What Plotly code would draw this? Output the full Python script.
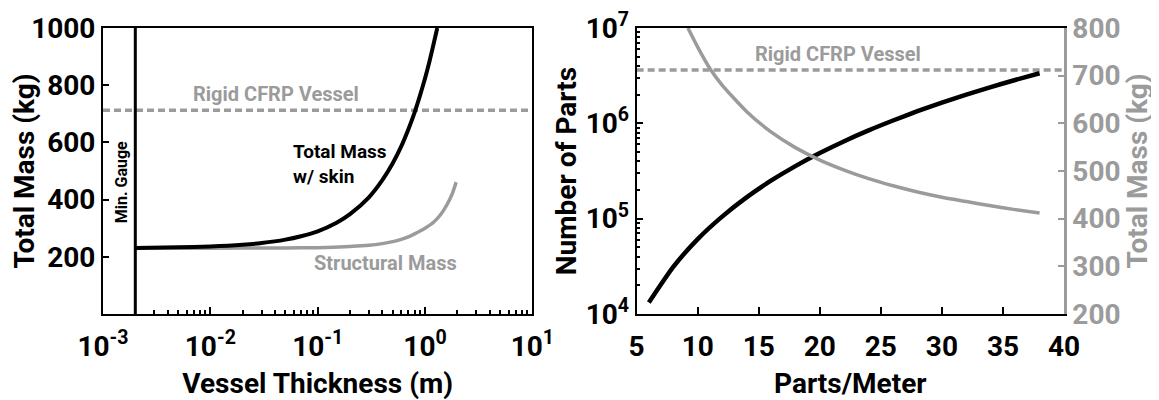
import math
import plotly.graph_objects as go
from plotly.subplots import make_subplots

# ---------------- data ----------------
# Left panel: mass vs vessel thickness (m)
thickness_total = [0.002, 0.005, 0.01, 0.02, 0.03, 0.05, 0.07, 0.1, 0.15, 0.2, 0.3, 0.4, 0.5, 0.6, 0.7, 0.8, 0.9, 1.0, 1.1, 1.2, 1.3]
mass_total = [231, 233, 236, 242, 248, 260, 272, 289, 319, 349, 408, 468, 527, 586, 646, 705, 765, 824, 883, 943, 1000]

thickness_struct = [0.002, 0.01, 0.05, 0.1, 0.2, 0.3, 0.4, 0.5, 0.6, 0.7, 0.8, 0.9, 1.0, 1.2, 1.4, 1.6, 1.8, 1.95]
mass_struct = [230, 230, 231, 232, 236, 240, 246, 253, 261, 270, 280, 290, 300, 321, 348, 382, 422, 461]

min_gauge = 0.002
rigid_cfrp_mass = 712

# Right panel: parts count and total mass vs parts/meter
ppm_parts = [6, 8, 10, 12, 14, 16, 18, 20, 22, 24, 26, 28, 30, 32, 34, 36, 38]
num_parts = [13200, 31200, 61000, 105000, 167000, 250000, 356000, 488000, 650000, 843000,
             1070000, 1340000, 1650000, 2000000, 2400000, 2850000, 3350000]

ppm_mass = [9.2, 10, 11, 12, 14, 16, 18, 20, 22, 24, 26, 28, 30, 32, 34, 36, 38]
mass_ppm = [800, 760, 715, 680, 625, 582, 549, 523, 502, 484, 469, 456, 445, 436, 427, 419, 412]

left_x_exps = [-3, -2, -1, 0, 1]
left_y_range = [0, 1000]
left_y_ticks = [200, 400, 600, 800, 1000]
right_x_ticks = [5, 10, 15, 20, 25, 30, 35, 40]
right_y_exps = [4, 5, 6, 7]
right_y2_ticks = [200, 300, 400, 500, 600, 700, 800]

# ---------------- style ----------------
FONT = "Roboto, 'Open Sans', sans-serif"
BLACK = "#000000"
GRAY = "#9b9b9b"
TICKF = dict(family=FONT, size=28, color=BLACK, weight="bold")
TITLEF = dict(family=FONT, size=28, color=BLACK, weight="bold")

fig = make_subplots(rows=1, cols=2, specs=[[{}, {"secondary_y": True}]])

# left panel traces
fig.add_trace(go.Scatter(x=thickness_struct, y=mass_struct, mode="lines",
                         line=dict(color=GRAY, width=3.5, shape="spline", smoothing=0.6),
                         name="Structural Mass", showlegend=False), row=1, col=1)
fig.add_trace(go.Scatter(x=thickness_total, y=mass_total, mode="lines",
                         line=dict(color=BLACK, width=4, shape="spline", smoothing=0.6),
                         name="Total Mass w/ skin", showlegend=False), row=1, col=1)
fig.add_trace(go.Scatter(x=[min_gauge, min_gauge], y=left_y_range, mode="lines",
                         line=dict(color=BLACK, width=3), name="Min. Gauge",
                         showlegend=False, cliponaxis=False), row=1, col=1)

# right panel traces
fig.add_trace(go.Scatter(x=ppm_mass, y=mass_ppm, mode="lines",
                         line=dict(color=GRAY, width=3.5, shape="spline", smoothing=0.6),
                         name="Total Mass", showlegend=False), row=1, col=2, secondary_y=True)
fig.add_trace(go.Scatter(x=ppm_parts, y=num_parts, mode="lines",
                         line=dict(color=BLACK, width=4.5, shape="spline", smoothing=0.6),
                         name="Number of Parts", showlegend=False), row=1, col=2, secondary_y=False)

# rigid CFRP reference lines
fig.add_shape(type="line", xref="x domain", yref="y", x0=0, x1=1,
              y0=rigid_cfrp_mass, y1=rigid_cfrp_mass,
              line=dict(color=GRAY, width=3.5, dash="7px,4px"), layer="below")
fig.add_shape(type="line", xref="x2 domain", yref="y3", x0=0, x1=1,
              y0=rigid_cfrp_mass, y1=rigid_cfrp_mass,
              line=dict(color=GRAY, width=3.5, dash="7px,4px"), layer="below")

# ---------------- axes ----------------
left_minor = [k * 10.0 ** e for e in range(-3, 1) for k in range(2, 10)]
right_minor = [k * 10.0 ** e for e in range(4, 7) for k in range(2, 10)]

fig.update_xaxes(row=1, col=1, type="log", range=[-3, 1], domain=[0, 0.4468],
                 tickmode="array", tickvals=[10.0 ** e for e in left_x_exps],
                 ticktext=[f"10<sup>{e}</sup>" for e in left_x_exps],
                 ticks="inside", ticklen=7, tickwidth=1.5, tickcolor=BLACK,
                 ticklabelstandoff=6,
                 showline=True, linecolor=BLACK, linewidth=2, mirror=True,
                 showgrid=False, zeroline=False, tickfont=TICKF,
                 title=dict(text="Vessel Thickness (m)", font=TITLEF, standoff=13))
fig.update_yaxes(row=1, col=1, range=left_y_range, tickmode="array", tickvals=left_y_ticks,
                 ticks="inside", ticklen=6, tickwidth=1.5, tickcolor=BLACK,
                 showline=True, linecolor=BLACK, linewidth=2, mirror=True,
                 showgrid=False, zeroline=False, tickfont=TICKF,
                 title=dict(text="Total Mass (kg)", font=TITLEF, standoff=2))

fig.update_xaxes(row=1, col=2, range=[5, 40], domain=[0.5553, 1],
                 tickmode="array", tickvals=right_x_ticks,
                 ticks="inside", ticklen=7, tickwidth=1.5, tickcolor=BLACK,
                 ticklabelstandoff=6,
                 showline=True, linecolor=BLACK, linewidth=2, mirror=True,
                 showgrid=False, zeroline=False, tickfont=TICKF,
                 title=dict(text="Parts/Meter", font=TITLEF, standoff=13))
fig.update_yaxes(row=1, col=2, secondary_y=False, type="log", range=[4, 7],
                 tickmode="array", tickvals=[10.0 ** e for e in right_y_exps],
                 ticktext=[f"10<sup>{e}</sup>" for e in right_y_exps],
                 ticks="inside", ticklen=6, tickwidth=1.5, tickcolor=BLACK,
                 showline=True, linecolor=BLACK, linewidth=2, mirror=False,
                 showgrid=False, zeroline=False, tickfont=TICKF,
                 title=dict(text="Number of Parts", font=TITLEF, standoff=1))
fig.update_yaxes(row=1, col=2, secondary_y=True, range=[200, 800],
                 tickmode="array", tickvals=right_y2_ticks,
                 ticks="inside", ticklen=6, tickwidth=1.5, tickcolor=GRAY,
                 showline=True, linecolor=GRAY, linewidth=2.5,
                 showgrid=False, zeroline=False,
                 tickfont=dict(family=FONT, size=28, color=GRAY, weight="bold"),
                 title=dict(text="Total Mass (kg)",
                            font=dict(family=FONT, size=28, color=GRAY, weight="bold"),
                            standoff=8))

# minor log ticks drawn by overlay axes (no labels)
fig.update_layout(
    xaxis4=dict(overlaying="x", anchor="y", side="bottom", type="log", range=[-3, 1],
                tickmode="array", tickvals=left_minor, ticks="inside", ticklen=4,
                tickwidth=1.5, tickcolor=BLACK, showticklabels=False,
                showgrid=False, zeroline=False, showline=False),
    yaxis4=dict(overlaying="y2", anchor="x2", side="left", type="log", range=[4, 7],
                tickmode="array", tickvals=right_minor, ticks="inside", ticklen=3,
                tickwidth=1.5, tickcolor=BLACK, showticklabels=False,
                showgrid=False, zeroline=False, showline=False),
)
fig.add_trace(go.Scatter(x=[], y=[], xaxis="x4", yaxis="y", showlegend=False, hoverinfo="skip"))
fig.add_trace(go.Scatter(x=[], y=[], xaxis="x2", yaxis="y4", showlegend=False, hoverinfo="skip"))

# ---------------- annotations ----------------
def ann(text, x, y, xref, yref, color, size, xanchor="center", angle=0, align="center"):
    fig.add_annotation(text=text, x=x, y=y, xref=xref, yref=yref, showarrow=False,
                       xanchor=xanchor, yanchor="middle", textangle=angle, align=align,
                       font=dict(family=FONT, size=size, color=color, weight="bold"))

ann("Rigid CFRP Vessel", 0.403, 770, "x domain", "y", GRAY, 20)
ann("Total Mass<br>w/ skin", 0.4376, 524, "x domain", "y", BLACK, 19, xanchor="left", align="left")
ann("Structural Mass", 0.659, 180, "x domain", "y", GRAY, 20)
ann("Min. Gauge", 0.044, 460, "x domain", "y", BLACK, 16, angle=-90)
ann("Rigid CFRP Vessel", 0.471, 0.91, "x2 domain", "y2 domain", GRAY, 20)

# page body has an 8px margin, so the figure is 16px smaller than the window
fig.update_layout(width=1151, height=392,
                  margin=dict(l=94.7, r=94.7, t=20.3, b=85.5, autoexpand=False),
                  plot_bgcolor="white", paper_bgcolor="white",
                  font=dict(family=FONT, color=BLACK))

fig.write_html("out.html")
